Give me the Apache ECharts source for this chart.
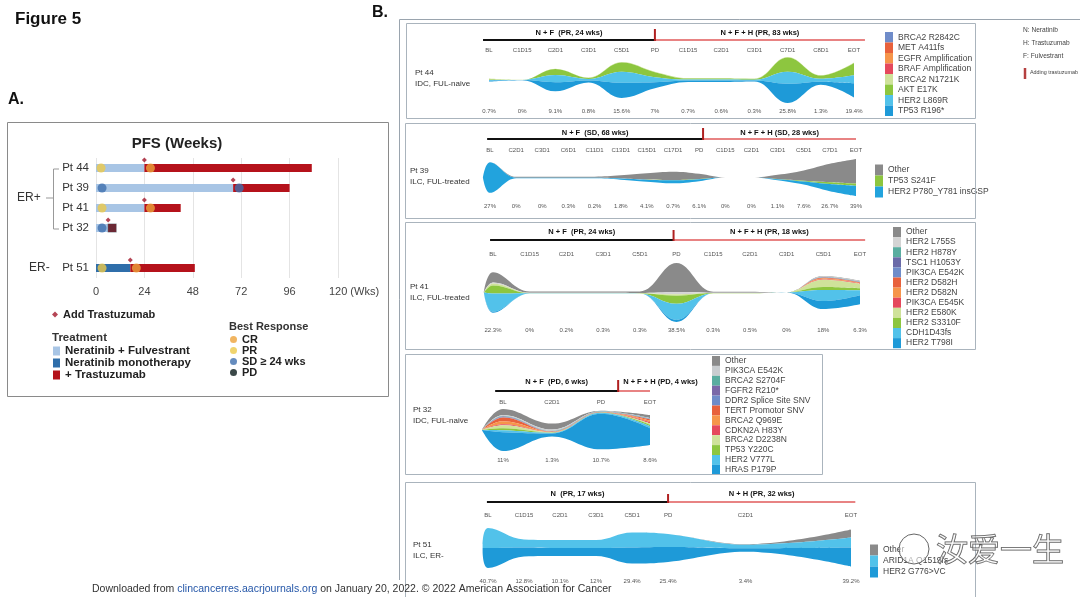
<!DOCTYPE html>
<html><head><meta charset="utf-8">
<script src="https://cdn.jsdelivr.net/npm/echarts@6/dist/echarts.min.js"></script>
<style>html,body{margin:0;padding:0;background:#fff}#c{width:1080px;height:597px}</style>
</head><body><div id="c"></div>
<script>
const FONT = '"Liberation Sans", Arial, sans-serif';

// ---------------- Panel A data ----------------
const pfsPatients = ['Pt 44', 'Pt 39', 'Pt 41', 'Pt 32', '', 'Pt 51'];
const pfsNeratinibFulvestrant = [24, 68, 24, 6, '-', 0];
const pfsNeratinibMono = [0, 0, 0, 0, '-', 17];
const pfsTrastuzumab = [83, 28, 18, 4, '-', 32];
const addTrastuzumabWeek = [[24, 'Pt 44'], [68, 'Pt 39'], [24, 'Pt 41'], [6, 'Pt 32'], [17, 'Pt 51']];
const responseCR = [[27, 'Pt 44'], [27, 'Pt 41'], [20, 'Pt 51']];
const responsePR = [[2.5, 'Pt 44'], [3, 'Pt 41'], [3, 'Pt 51']];
const responseSD = [[3, 'Pt 39'], [71, 'Pt 39'], [3, 'Pt 32']];
const responsePD = [[8, 'Pt 32']];
const pfsTickLabels = ['0', '24', '48', '72', '96', '120 (Wks)'];

// ---------------- Panel B data ----------------
const pt44Times = ['BL','C1D15','C2D1','C3D1','C5D1','PD','C1D15','C2D1','C3D1','C7D1','C8D1','EOT'];
const pt44Pos = [0,1,2,3,4,5,6,7,8,9,10,11];
const pt44Pct = ['0.7%','0%','9.1%','0.8%','15.6%','7%','0.7%','0.6%','0.3%','25.8%','1.3%','19.4%'];
const pt44Heads = ['N + F  (PR, 24 wks)', 'N + F + H (PR, 83 wks)'];
const pt44Label = ['Pt 44', 'IDC, FUL-naive'];
const pt44Mutations = ['BRCA2 R2842C','MET A411fs','EGFR Amplification','BRAF Amplification','BRCA2 N1721K','AKT E17K','HER2 L869R','TP53 R196*'];
const pt44Colors = ['#6f8cc9','#e8613c','#f6954a','#e5485c','#cfe29a','#8dc63f','#52c2ea','#1e9ad8'];
const pt44Layers = [
  [0,0,0,0,0,0,0,0,0,0,0,0],
  [0,0,0,0,0,0,0,0,0,0,0,0],
  [0,0,0,0,0,0,0,0,0,0,0,0],
  [0,0,0,0,0,0,0,0,0,0,0,0],
  [1,0.1,0.3,0.3,0.5,0.5,0.6,0.6,0.5,0.5,0.3,0.5],
  [0.5,0,6,1,9,5,1,1,0.8,14,3,12],
  [0.8,0.1,7,1.5,11,5,1,1,0.8,12,3,8],
  [0.7,0.1,9,2,15,6,1.5,1.5,1,19,3,14]
];

const pt39Times = ['','BL','C2D1','C3D1','C6D1','C11D1','C13D1','C15D1','C17D1','PD','C1D15','C2D1','C3D1','C5D1','C7D1','EOT'];
const pt39Pos = [-0.27,0,1,2,3,4,5,6,7,8,9,10,11,12,13,14];
const pt39Pct = ['','27%','0%','0%','0.3%','0.2%','1.8%','4.1%','0.7%','6.1%','0%','0%','1.1%','7.6%','26.7%','39%'];
const pt39Heads = ['N + F  (SD, 68 wks)', 'N + F + H (SD, 28 wks)'];
const pt39Label = ['Pt 39', 'ILC, FUL-treated'];
const pt39Mutations = ['Other','TP53 S241F','HER2 P780_Y781 insGSP'];
const pt39Colors = ['#8a8a8a','#8dc63f','#22a3dd'];
const pt39Layers = [
  [0,0,0.8,0.8,0.9,1,3,6,8,5,0,0,4,10,18,24],
  [0,0,0,0,0,0,0,0.2,0.3,0.2,0,0,0.3,0.8,1.8,2.2],
  [0,30,0.5,0.5,0.6,0.6,1.2,2,3,2,0,0,1,3,7,10]
];

const pt41Times = ['','BL','C1D15','C2D1','C3D1','C5D1','PD','C1D15','C2D1','C3D1','C5D1','EOT'];
const pt41Pos = [-0.25,0,1,2,3,4,5,6,7,8,9,10];
const pt41Pct = ['','22.3%','0%','0.2%','0.3%','0.3%','38.5%','0.3%','0.5%','0%','18%','6.3%'];
const pt41Heads = ['N + F  (PR, 24 wks)', 'N + F + H (PR, 18 wks)'];
const pt41Label = ['Pt 41', 'ILC, FUL-treated'];
const pt41Mutations = ['Other','HER2 L755S','HER2 H878Y','TSC1 H1053Y','PIK3CA E542K','HER2 D582H','HER2 D582N','PIK3CA E545K','HER2 E580K','HER2 S3310F','CDH1D43fs','HER2 T798I'];
const pt41Colors = ['#8a8a8a','#d4d4d4','#5aada0','#6a6aa8','#6f8cc9','#e8613c','#f6954a','#e5485c','#cfe29a','#8dc63f','#52c2ea','#1e9ad8'];
const pt41Layers = [
  [0,10,1.2,1.2,1.2,1.5,29,1,1,0,0.6,0.6],
  [0,1,0.3,0.3,0.3,0.3,2,0.3,0.3,0,0.5,0.5],
  [0,0,0,0,0,0,0,0,0,0,0.2,0.2],
  [0,0,0,0,0,0,0,0,0,0,0.2,0.2],
  [0,0,0,0,0,0,0,0,0,0,0.3,0.3],
  [0,0,0,0,0,0,0,0,0,0,0.8,0.6],
  [0,0,0,0,0,0,0,0,0,0,0.8,0.6],
  [0,0,0,0,0,0,0,0,0,0,0.5,0.4],
  [0,2,0.1,0.1,0.1,0.1,1.5,0.1,0.1,0,7,4],
  [0,8,0.1,0.1,0.1,0.1,8,0.1,0.1,0,3,2],
  [0,18,0.2,0.2,0.2,0.2,16,0.2,0.2,0,11,5],
  [0,1,0,0,0,0,2,0,0,0,8,9]
];

const pt32Times = ['','BL','C2D1','PD','EOT'];
const pt32Pos = [-0.43,0,1,2,3];
const pt32Pct = ['','11%','1.3%','10.7%','8.6%'];
const pt32Heads = ['N + F  (PD, 6 wks)', 'N + F + H (PD, 4 wks)'];
const pt32Label = ['Pt 32', 'IDC, FUL-naive'];
const pt32Mutations = ['Other','PIK3CA E542K','BRCA2 S2704F','FGFR2 R210*','DDR2 Splice Site SNV','TERT Promotor SNV','BRCA2 Q969E','CDKN2A H83Y','BRCA2 D2238N','TP53 Y220C','HER2 V777L','HRAS P179P'];
const pt32Colors = ['#8a8a8a','#c9cdd0','#5aada0','#7a68a8','#6f8cc9','#e8613c','#f6954a','#e5485c','#cfe29a','#8dc63f','#52c2ea','#1e9ad8'];
const pt32Layers = [
  [0,6,6,0.6,3],
  [0,1,1.5,0.4,0.5],
  [0,0.5,0.2,0.1,0.3],
  [0,0.5,0.2,0.1,0.3],
  [0,0.5,0.2,0.1,0.3],
  [0,4,0.3,0.2,1.5],
  [0,3,0.3,0.2,1.5],
  [0,1,0.2,0.1,1],
  [0,3,0.3,0.2,1.5],
  [0,2,0.3,0.2,1.5],
  [0,2,0.5,1,2],
  [0,19,3,36,17]
];

const pt51Times = ['','BL','C1D15','C2D1','C3D1','C5D1','PD','C2D1','EOT'];
const pt51Pos = [-0.15,0,1,2,3,4,5,7.15,10.08];
const pt51Pct = ['','40.7%','12.8%','10.1%','12%','29.4%','25.4%','3.4%','39.2%'];
const pt51Heads = ['N  (PR, 17 wks)', 'N + H (PR, 32 wks)'];
const pt51Label = ['Pt 51', 'ILC, ER-'];
const pt51Mutations = ['Other','ARID1A Q1519fs','HER2 G776>VC'];
const pt51Colors = ['#8a8a8a','#52c2ea','#1e9ad8'];
const pt51Layers = [
  [0,0,0,0,0,0,0,0.5,8],
  [4,20,8,8,8,15,13,3.5,10],
  [4,20,9,8,8,16,15,3.5,19]
];

// ---------------- Layout (positions / sizes only) ----------------
const panels = [
  {times:pt44Times,pos:pt44Pos,pct:pt44Pct,heads:pt44Heads,label:pt44Label,names:pt44Mutations,colors:pt44Colors,layers:pt44Layers,
   L:{left:489,width:365,min:0,max:11,top:57,height:46,timeY:50,pctY:111,headY:33,barY:40,tickTop:29,barStart:-0.18,split:5,barEnd:11.33,
      legLeft:885,legTop:32,legStep:10.5,labX:415,labY:73,box:[406,23,975,118]}},
  {times:pt39Times,pos:pt39Pos,pct:pt39Pct,heads:pt39Heads,label:pt39Label,names:pt39Mutations,colors:pt39Colors,layers:pt39Layers,
   L:{left:490,width:366,min:0,max:14,top:159,height:37,timeY:150,pctY:206,headY:133,barY:139,tickTop:128,barStart:-0.11,split:8.15,barEnd:14,
      legLeft:875,legTop:164.5,legStep:11,labX:410,labY:171,box:[405,123,975,218]}},
  {times:pt41Times,pos:pt41Pos,pct:pt41Pct,heads:pt41Heads,label:pt41Label,names:pt41Mutations,colors:pt41Colors,layers:pt41Layers,
   L:{left:493,width:367,min:0,max:10,top:263,height:59,timeY:254,pctY:330,headY:232,barY:240,tickTop:230,barStart:-0.08,split:4.92,barEnd:10.14,
      legLeft:893,legTop:227,legStep:10.1,labX:410,labY:287,box:[405,222,975,349]}},
  {times:pt32Times,pos:pt32Pos,pct:pt32Pct,heads:pt32Heads,label:pt32Label,names:pt32Mutations,colors:pt32Colors,layers:pt32Layers,
   L:{left:503,width:147,min:0,max:3,top:409,height:42,timeY:402,pctY:460,headY:382,barY:391,tickTop:380,barStart:-0.16,split:2.35,barEnd:3,head2Left:true,
      legLeft:712,legTop:356,legStep:9.9,labX:413,labY:410,box:[405,354,822,474]}},
  {times:pt51Times,pos:pt51Pos,pct:pt51Pct,heads:pt51Heads,label:pt51Label,names:pt51Mutations,colors:pt51Colors,layers:pt51Layers,
   L:{left:488,width:363,min:0,max:10.08,top:528,height:40,timeY:515,pctY:581,headY:494,barY:502,tickTop:494,barStart:-0.03,split:5,barEnd:10.2,
      legLeft:870,legTop:544.5,legStep:11,labX:413,labY:545,box:[405,482,975,600]}}
];

const chart = echarts.init(document.getElementById('c'), null, {renderer:'canvas'});

const singleAxes = [], riverSeries = [], legends = [];
panels.forEach((p, k) => {
  const L = p.L;
  const cmap = {};
  p.names.forEach((n, i) => { cmap[n] = p.colors[i]; });
  singleAxes.push({type:'value', left:L.left, width:L.width, top:L.top, height:L.height, min:L.min, max:L.max,
    axisLine:{show:false}, axisTick:{show:false}, axisLabel:{show:false}, splitLine:{show:false}, splitArea:{show:false}, axisPointer:{show:false}});
  const data = [];
  p.names.forEach((n, i) => p.pos.forEach((x, j) => data.push([x, p.layers[i][j], n])));
  riverSeries.push({type:'themeRiver', singleAxisIndex:k, data, boundaryGap:[0,0], silent:true,
    label:{show:false}, emphasis:{disabled:true},
    itemStyle:{borderWidth:0, color:(params) => {
      const n = params.name || (params.data && params.data[2]);
      return cmap[n] || '#999';
    }}});
  legends.push({orient:'vertical', left:L.legLeft, top:L.legTop, padding:0, itemGap:0, itemWidth:8, itemHeight:L.legStep,
    icon:'rect', selectedMode:false,
    textStyle:{fontSize:8.5, color:'#444', fontFamily:FONT, lineHeight:L.legStep},
    data:p.names.map((n, i) => ({name:n, itemStyle:{color:p.colors[i]}}))});
});

// Panel A legends
legends.push({orient:'vertical', left:52, top:309, padding:0, itemWidth:6, itemHeight:6, icon:'diamond', selectedMode:false,
  textStyle:{fontSize:11, fontWeight:'bold', color:'#222', fontFamily:FONT}, data:['Add Trastuzumab']});
legends.push({orient:'vertical', left:53, top:345, padding:0, itemGap:0, itemWidth:7, itemHeight:9, icon:'rect', selectedMode:false,
  textStyle:{fontSize:11.5, fontWeight:'bold', color:'#222', fontFamily:FONT, lineHeight:11},
  data:['Neratinib + Fulvestrant','Neratinib monotherapy','+ Trastuzumab']});
legends.push({orient:'vertical', left:230, top:334, padding:0, itemGap:0, itemWidth:7, itemHeight:7, icon:'circle', selectedMode:false,
  textStyle:{fontSize:11, fontWeight:'bold', color:'#222', fontFamily:FONT, lineHeight:9.8},
  data:[{name:'CR'},{name:'PR'},{name:'SD ≥ 24 wks'},{name:'PD', itemStyle:{color:'#3a4848', opacity:1}}]});

const option = {
  animation:false,
  backgroundColor:'#fff',
  textStyle:{fontFamily:FONT},
  grid:{left:96, top:158, width:242, height:120},
  xAxis:{type:'value', min:0, max:120, interval:24,
    axisLine:{show:false}, axisTick:{show:false},
    splitLine:{show:true, lineStyle:{color:'#e4e4e4', width:1}},
    axisLabel:{fontSize:11, color:'#444', fontFamily:FONT, margin:8,
      formatter:(v) => { const s = pfsTickLabels[Math.round(v / 24)]; return v === 120 ? '{sp|}' + s : s; },
      rich:{sp:{width:32}}}},
  yAxis:{type:'category', inverse:true, data:pfsPatients,
    axisLine:{show:false}, axisTick:{show:false}, splitLine:{show:false},
    axisLabel:{fontSize:11.5, color:'#333', fontFamily:FONT, margin:7}},
  singleAxis:singleAxes,
  legend:legends,
  series:[
    {name:'Neratinib + Fulvestrant', type:'bar', stack:'pfs', barWidth:8, data:pfsNeratinibFulvestrant, itemStyle:{color:'#a8c5e5'}, silent:true},
    {name:'Neratinib monotherapy', type:'bar', stack:'pfs', barWidth:8, data:pfsNeratinibMono, itemStyle:{color:'#2f6eaa'}, silent:true},
    {name:'+ Trastuzumab', type:'bar', stack:'pfs', barWidth:8, data:pfsTrastuzumab, itemStyle:{color:'#b5121b'}, silent:true},
    {name:'Add Trastuzumab', type:'scatter', data:addTrastuzumabWeek, symbol:'diamond', symbolSize:5, symbolOffset:[0,-8], itemStyle:{color:'#a3162a'}, silent:true},
    {name:'CR', type:'scatter', data:responseCR, symbolSize:9, itemStyle:{color:'#eda33a'}, silent:true},
    {name:'PR', type:'scatter', data:responsePR, symbolSize:9, itemStyle:{color:'#ecc94a'}, silent:true},
    {name:'SD ≥ 24 wks', type:'scatter', data:responseSD, symbolSize:9, itemStyle:{color:'#3f6fae'}, silent:true},
    {name:'PD', type:'scatter', data:responsePD, symbol:'rect', symbolSize:[9,9], itemStyle:{color:'#2e3a48', opacity:0.55}, silent:true}
  ].concat(riverSeries)
};
chart.setOption(option);

// ---------------- Annotations ----------------
const g = [];
function txt(x, y, text, size, o) {
  o = o || {};
  g.push({type:'text', silent:true, z:100, style:Object.assign({x:x, y:y, text:text, fontSize:size, fontFamily:o.family || FONT,
    fontWeight:o.bold ? 'bold' : 'normal', fill:o.color || '#333', align:o.align || 'left', textAlign:o.align || 'left',
    verticalAlign:'middle', textVerticalAlign:'middle'}, o.style || {})});
}
function line(x1, y1, x2, y2, stroke, w, z) {
  g.push({type:'line', silent:true, z:z || 90, shape:{x1, y1, x2, y2}, style:{stroke, lineWidth:w || 1}});
}
function box(x1, y1, x2, y2, stroke) {
  g.push({type:'rect', silent:true, z:5, shape:{x:x1 + 0.5, y:y1 + 0.5, width:x2 - x1, height:y2 - y1}, style:{fill:'none', stroke, lineWidth:1}});
}

txt(15, 19, 'Figure 5', 17, {bold:true, color:'#111'});
txt(8, 100, 'A.', 16, {bold:true, color:'#111'});
txt(372, 13, 'B.', 16, {bold:true, color:'#111'});

// Panel A frame & labels
box(7, 122, 388, 396, '#8a8a8a');
txt(177, 144, 'PFS (Weeks)', 15, {bold:true, color:'#222', align:'center'});
txt(52, 338, 'Treatment', 11.5, {bold:true, color:'#333'});
txt(229, 327, 'Best Response', 11, {bold:true, color:'#333'});
const yPx = (c) => chart.convertToPixel({yAxisIndex:0}, c);
const y44 = yPx('Pt 44'), y32 = yPx('Pt 32'), y51 = yPx('Pt 51');
const yMid = (y44 + y32) / 2;
g.push({type:'polyline', silent:true, z:90, shape:{points:[[59, y44 + 1], [53.5, y44 + 1], [53.5, y32 + 1], [59, y32 + 1]]}, style:{stroke:'#999', fill:'none', lineWidth:1}});
line(46, yMid, 53.5, yMid, '#999', 1);
txt(17, yMid, 'ER+', 12, {color:'#333'});
txt(29, y51, 'ER-', 12, {color:'#333'});

// Panel B frame
line(399.5, 19.5, 1080, 19.5, '#9aa4ae', 1, 4);
line(399.5, 19.5, 399.5, 580, '#9aa4ae', 1, 4);

panels.forEach((p, k) => {
  const L = p.L;
  const px = (v) => {
    let r = null;
    try { r = chart.convertToPixel({singleAxisIndex:k}, v); } catch (e) { r = null; }
    if (Array.isArray(r)) return r[0];
    if (typeof r === 'number' && !isNaN(r)) return r;
    return L.left + (v - L.min) / (L.max - L.min) * L.width;
  };
  box(L.box[0], L.box[1], L.box[2], L.box[3], '#aab4bd');
  const xs = px(L.barStart), xm = px(L.split), xe = px(L.barEnd);
  line(xs, L.barY, xm, L.barY, '#111', 2);
  line(xm, L.barY, xe, L.barY, '#e05a5a', 1.5);
  line(xm, L.tickTop, xm, L.barY + 1, '#b02020', 2, 95);
  txt((xs + xm) / 2, L.headY, p.heads[0], 7.5, {bold:true, color:'#111', align:'center'});
  if (L.head2Left) txt(xm + 5, L.headY, p.heads[1], 7.5, {bold:true, color:'#111'});
  else txt((xm + xe) / 2, L.headY, p.heads[1], 7.5, {bold:true, color:'#111', align:'center'});
  p.pos.forEach((v, j) => {
    if (p.times[j]) txt(px(v), L.timeY, p.times[j], 6, {color:'#555', align:'center'});
    if (p.pct[j]) txt(px(v), L.pctY, p.pct[j], 6, {color:'#555', align:'center'});
  });
  txt(L.labX, L.labY, p.label[0], 8, {color:'#333'});
  txt(L.labX, L.labY + 11, p.label[1], 8, {color:'#333'});
});

// Abbreviation key
txt(1023, 30, 'N: Neratinib', 6.6, {color:'#444'});
txt(1023, 43, 'H: Trastuzumab', 6.6, {color:'#444'});
txt(1023, 56, 'F: Fulvestrant', 6.6, {color:'#444'});
line(1025, 68, 1025, 79, '#b54040', 2.5);
txt(1030, 73, 'Adding trastuzumab', 5.4, {color:'#444'});

// Footer
g.push({type:'text', silent:true, z:120, style:{x:92, y:589, text:'{a|Downloaded from }{b|clincancerres.aacrjournals.org}{a| on January 20, 2022. © 2022 American Association for Cancer}',
  verticalAlign:'middle', textVerticalAlign:'middle',
  rich:{a:{fontSize:10.5, fontFamily:FONT, fill:'#333', color:'#333'}, b:{fontSize:10.5, fontFamily:FONT, fill:'#2456a8', color:'#2456a8'}}}});

// Watermark
g.push({type:'circle', silent:true, z:130, shape:{cx:914, cy:549, r:15}, style:{fill:'rgba(255,255,255,0.55)', stroke:'#666', lineWidth:1}});
txt(936, 549, '汝爱一生', 32, {family:'"Noto Sans CJK SC", sans-serif', color:'rgba(255,255,255,0.35)', style:{stroke:'#555', lineWidth:1}});

chart.setOption({graphic:{elements:g}});
</script></body></html>
